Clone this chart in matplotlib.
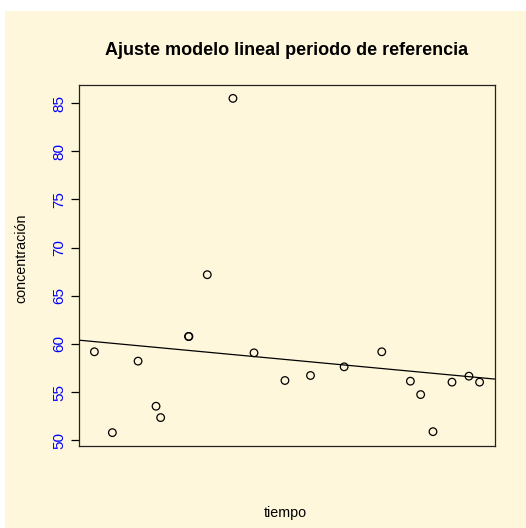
import numpy as np
import matplotlib
matplotlib.use("Agg")
import matplotlib.pyplot as plt
from matplotlib.patches import Rectangle

# datos
tiempo = [1.0, 2.4, 4.4, 5.8, 6.16, 8.33, 8.36, 9.79, 11.79, 13.43,
          15.84, 17.83, 20.45, 23.38, 25.61, 26.41, 27.37, 28.85, 30.17, 31.0]
concentracion = [59.19, 50.8, 58.22, 53.54, 52.36, 60.78, 60.78, 67.19, 85.49, 59.08,
                 56.21, 56.73, 57.63, 59.19, 56.14, 54.75, 50.9, 56.04, 56.66, 56.04]
yticks = [50, 55, 60, 65, 70, 75, 80, 85]

plt.rcParams['font.family'] = ['Liberation Sans', 'DejaVu Sans']
fondo = '#FFF7DC'

fig = plt.figure(figsize=(5.26, 5.28), dpi=100, facecolor='white')
fig.patches.append(Rectangle((5 / 526, 0), 1, 1 - 11 / 528, transform=fig.transFigure,
                             facecolor=fondo, edgecolor='none', zorder=-10))
ax = fig.add_axes([79 / 526, 1 - 446 / 528, 416 / 526, 361 / 528])
ax.set_facecolor(fondo)

ax.scatter(tiempo, concentracion, s=30, facecolors='none', edgecolors='black', linewidths=0.9, zorder=3)

# recta de regresion
b, a = np.polyfit(tiempo, concentracion, 1)
ax.axline((0, a), slope=b, color='black', linewidth=0.9)

# limites estilo R (4%)
x0, x1 = min(tiempo), max(tiempo)
y0, y1 = min(concentracion), max(concentracion)
ax.set_xlim(x0 - 0.04 * (x1 - x0), x1 + 0.04 * (x1 - x0))
ax.set_ylim(y0 - 0.04 * (y1 - y0), y1 + 0.04 * (y1 - y0))

ax.set_xticks([])
ax.set_yticks(yticks)
ax.set_yticklabels([str(v) for v in yticks], rotation=90, va='center', color='blue', fontsize=11)
ax.tick_params(axis='y', length=6, width=0.9, pad=3)
for s in ax.spines.values():
    s.set_linewidth(0.9)
    s.set_color('#222222')

fig.text(287 / 526, 1 - 55 / 528, 'Ajuste modelo lineal periodo de referencia',
         ha='center', va='baseline', fontsize=13, fontweight='bold')
fig.text(285 / 526, 1 - 517.5 / 528, 'tiempo', ha='center', va='baseline', fontsize=10.3)
fig.text(25.3 / 526, 1 - 258.7 / 528, 'concentración', ha='center', va='baseline',
         rotation=90, rotation_mode='anchor', fontsize=10.3)

fig.savefig('out.png', dpi=100, facecolor='white')
